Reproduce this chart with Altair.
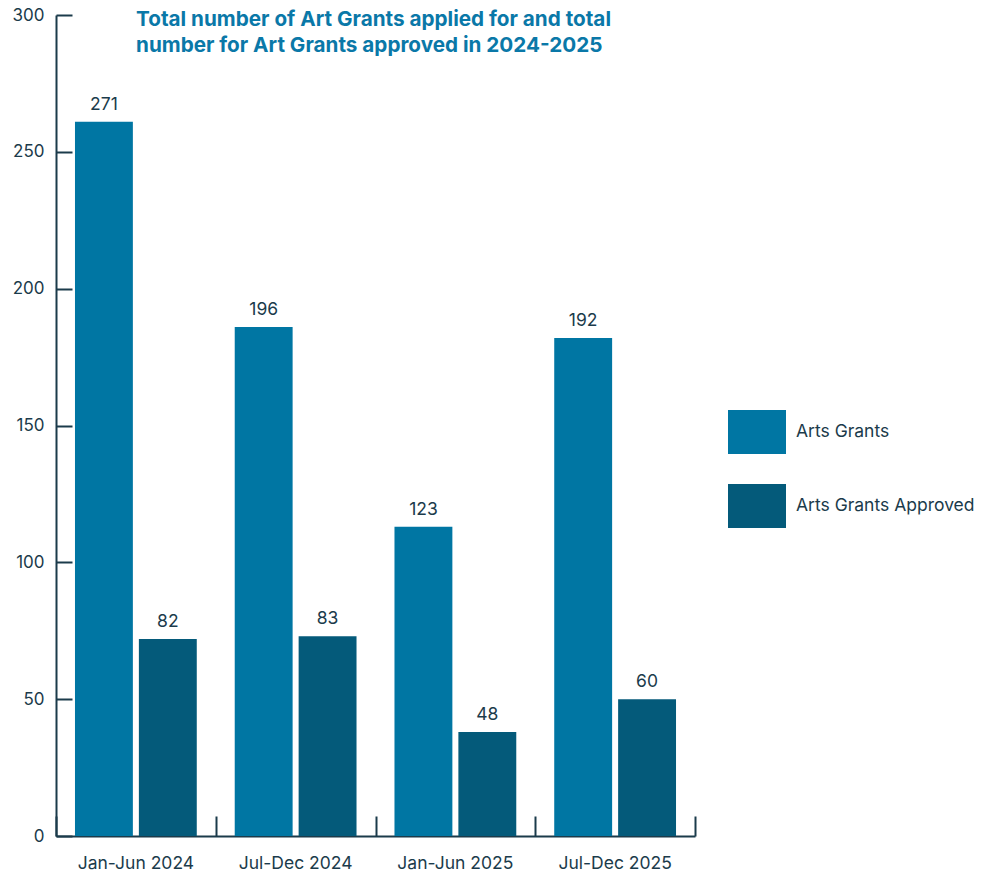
import altair as alt
import pandas as pd

periods = ["Jan-Jun 2024", "Jul-Dec 2024", "Jan-Jun 2025", "Jul-Dec 2025"]
series = ["Arts Grants", "Arts Grants Approved"]
# printed value labels
applied_labels = [271, 196, 123, 192]
approved_labels = [82, 83, 48, 60]
# bar heights as read against the y axis
applied_heights = [261, 186, 113, 182]
approved_heights = [72, 73, 38, 50]
y_ticks = [0, 50, 100, 150, 200, 250, 300]

rows = []
for i, p in enumerate(periods):
    rows.append({"period": p, "series": series[0], "height": applied_heights[i], "label": applied_labels[i]})
    rows.append({"period": p, "series": series[1], "height": approved_heights[i], "label": approved_labels[i]})
df = pd.DataFrame(rows)

FONT = "Inter"
TXT = "#1b3b4b"
BLUE = "#0076a3"
DARK = "#045a7a"
TITLE_C = "#0a78a8"
FS = 17.5

W, H = 639, 821

x_main = alt.X("period:N", sort=periods, title=None,
               scale=alt.Scale(paddingInner=0, paddingOuter=0),
               axis=alt.Axis(orient="bottom", labelAngle=0, ticks=False, domain=True, domainColor=TXT,
                             domainWidth=2, labelColor=TXT, labelFont=FONT, labelFontSize=FS,
                             labelPadding=18, grid=False))
x_off = alt.XOffset("series:N", sort=series,
                    scale=alt.Scale(paddingInner=0.094, paddingOuter=0.297))
y_main = alt.Y("height:Q", title=None,
               scale=alt.Scale(domain=[0, 300], nice=False),
               axis=alt.Axis(orient="left", values=y_ticks, ticks=False, tickSize=0,
                             domainColor=TXT, domainWidth=2, labelColor=TXT, labelFont=FONT,
                             labelFontSize=17, labelPadding=12, grid=False))

color = alt.Color("series:N", sort=series, title=None,
                  scale=alt.Scale(domain=series, range=[BLUE, DARK]),
                  legend=alt.Legend(orient="none", legendX=672, legendY=388,
                                    symbolType="M-1,-0.759H1V0.759H-1Z", symbolSize=3364,
                                    symbolStrokeWidth=0, symbolOpacity=1,
                                    labelFont=FONT, labelFontSize=FS, labelColor=TXT,
                                    labelExpr="datum.label == 'Arts Grants Approved' ? '\u2002' + datum.label : datum.label",
                                    labelOffset=10, labelLimit=400, rowPadding=22, padding=0))

bars = alt.Chart(df).mark_bar(opacity=1).encode(
    x=x_main, xOffset=x_off, y=y_main, color=color
)

labels = alt.Chart(df).mark_text(font=FONT, fontSize=FS, color=TXT, baseline="alphabetic", dy=-12).encode(
    x=alt.X("period:N", sort=periods, axis=None),
    xOffset=alt.XOffset("series:N", sort=series),
    y=alt.Y("height:Q", axis=None),
    text=alt.Text("label:Q"),
)

# inward ticks: axes shifted into the plot by their tick length, so ticks end on the axis lines
ticks_layer = alt.Chart(df).mark_bar(opacity=0).encode(
    x=alt.X("period:N", sort=periods,
            axis=alt.Axis(orient="bottom", offset=-20, labels=False, domain=False, ticks=True,
                          tickBand="extent", tickSize=20, tickColor=TXT, tickWidth=2, title=None)),
    y=alt.Y("height:Q",
            axis=alt.Axis(orient="left", offset=-16, labels=False, domain=False, ticks=True,
                          values=y_ticks, tickSize=16, tickColor=TXT, tickWidth=2, title=None)),
)

chart = alt.layer(bars, labels, ticks_layer).resolve_axis(x="independent", y="independent").properties(
    width=W, height=H,
    autosize=alt.AutoSizeParams(type="none"),
    padding={"left": 48, "top": 7, "right": 286, "bottom": 40},
    background="white",
    title=alt.TitleParams(
        text=["Total number of Art Grants applied for and total",
              "number for Art Grants approved in 2024-2025"],
        anchor="start", frame="group", dx=80, offset=-132, font=FONT, fontSize=20.7,
        fontWeight="bold", color=TITLE_C, lineHeight=26),
).configure_view(stroke=None)

chart.save("out.html", embed_options={"renderer": "svg", "actions": False})
